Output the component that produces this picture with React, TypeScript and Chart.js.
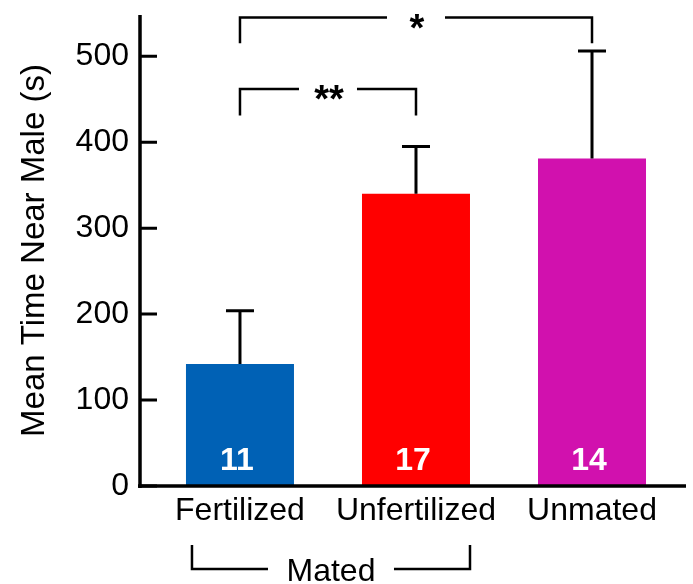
import React, { useEffect, useRef } from 'react';
import { Chart, registerables } from 'chart.js';

Chart.register(...registerables);

const categories = ['Fertilized', 'Unfertilized', 'Unmated'];
const meanTime = [142, 340, 381];
const semTime = [62, 55, 125];
const sampleSizes = ['11', '17', '14'];
const barColors = ['#0061b5', '#ff0000', '#d111ae'];
const yTickValues = [0, 100, 200, 300, 400, 500];
const yMax = 548;
const yTitle = 'Mean Time Near Male (s)';
const sigFrom = [0, 0];
const sigTo = [2, 1];
const sigLevel = [545, 462];
const sigEnd = [515, 431];
const sigLabels = ['*', '**'];
const groupLabel = 'Mated';
const groupFrom = 0;
const groupTo = 1;

const FONT = "'Liberation Sans', Arial, Helvetica, sans-serif";

const annotationPlugin = {
  id: 'annotations',
  afterDatasetsDraw(chart: any) {
    const ctx = chart.ctx as CanvasRenderingContext2D;
    const area = chart.chartArea;
    const y = chart.scales.y;
    const meta = chart.getDatasetMeta(0);
    ctx.save();
    ctx.strokeStyle = '#000';
    ctx.fillStyle = '#000';
    ctx.lineCap = 'butt';

    // error bars
    ctx.lineWidth = 3;
    meta.data.forEach((bar: any, i: number) => {
      const top = y.getPixelForValue(meanTime[i] + semTime[i]);
      const base = y.getPixelForValue(meanTime[i]);
      ctx.beginPath();
      ctx.moveTo(bar.x, base);
      ctx.lineTo(bar.x, top);
      ctx.moveTo(bar.x - 14, top);
      ctx.lineTo(bar.x + 14, top);
      ctx.stroke();
    });

    // sample sizes inside bars
    ctx.fillStyle = '#fff';
    ctx.font = `bold 32px ${FONT}`;
    ctx.textAlign = 'center';
    ctx.textBaseline = 'alphabetic';
    meta.data.forEach((bar: any, i: number) => {
      ctx.fillText(sampleSizes[i], bar.x - 3, area.bottom - 16);
    });

    // axes
    ctx.strokeStyle = '#000';
    ctx.fillStyle = '#000';
    ctx.lineWidth = 3.5;
    ctx.beginPath();
    ctx.moveTo(area.left, area.top);
    ctx.lineTo(area.left, area.bottom + 2);
    ctx.moveTo(area.left - 2, area.bottom);
    ctx.lineTo(area.right, area.bottom);
    ctx.stroke();
    ctx.lineWidth = 3;
    ctx.beginPath();
    yTickValues.forEach((v) => {
      const py = y.getPixelForValue(v);
      ctx.moveTo(area.left, py);
      ctx.lineTo(area.left + 17, py);
    });
    ctx.stroke();

    // significance brackets
    ctx.lineWidth = 2.5;
    ctx.font = `bold 38px ${FONT}`;
    ctx.textAlign = 'center';
    ctx.textBaseline = 'alphabetic';
    sigLabels.forEach((label, k) => {
      const x1 = meta.data[sigFrom[k]].x;
      const x2 = meta.data[sigTo[k]].x;
      const ly = y.getPixelForValue(sigLevel[k]);
      const ey = y.getPixelForValue(sigEnd[k]);
      const mid = (x1 + x2) / 2;
      const gap = 29;
      ctx.beginPath();
      ctx.moveTo(x1, ey);
      ctx.lineTo(x1, ly);
      ctx.lineTo(mid - gap, ly);
      ctx.moveTo(mid + gap, ly);
      ctx.lineTo(x2, ly);
      ctx.lineTo(x2, ey);
      ctx.stroke();
      ctx.fillText(label, mid + 1, ly + 23);
    });

    // group bracket below x labels
    const b1: any = meta.data[groupFrom];
    const b2: any = meta.data[groupTo];
    const gx1 = b1.x - b1.width / 2 + 6;
    const gx2 = b2.x + b2.width / 2;
    const gTop = area.bottom + 59;
    const gLine = area.bottom + 83;
    const gMid = (gx1 + gx2) / 2;
    ctx.beginPath();
    ctx.moveTo(gx1, gTop);
    ctx.lineTo(gx1, gLine);
    ctx.lineTo(gMid - 63, gLine);
    ctx.moveTo(gMid + 63, gLine);
    ctx.lineTo(gx2, gLine);
    ctx.lineTo(gx2, gTop);
    ctx.stroke();
    ctx.font = `32px ${FONT}`;
    ctx.fillText(groupLabel, gMid, area.bottom + 95);

    ctx.restore();
  },
};

export default function App() {
  const ref = useRef<HTMLCanvasElement>(null);
  useEffect(() => {
    const chart = new Chart(ref.current as HTMLCanvasElement, {
      type: 'bar',
      data: {
        datasets: [
          {
            data: meanTime.map((v, i) => ({ x: i, y: v })) as any,
            backgroundColor: barColors,
            borderWidth: 0,
            categoryPercentage: 1,
            barPercentage: 0.6136,
          },
        ],
      },
      options: {
        responsive: false,
        animation: false,
        devicePixelRatio: 1,
        layout: { padding: { top: 15, right: 7, left: 0, bottom: 0 } },
        plugins: { legend: { display: false }, tooltip: { enabled: false } },
        scales: {
          x: {
            type: 'linear',
            offset: false,
            min: -0.568,
            max: 2.534,
            grid: { display: false, drawTicks: false, offset: false },
            border: { display: false },
            afterBuildTicks: (s: any) => {
              s.ticks = categories.map((_, i) => ({ value: i }));
            },
            afterFit: (s: any) => {
              s.height = 98;
              s.paddingLeft = 0;
              s.paddingRight = 0;
            },
            ticks: {
              autoSkip: false,
              maxRotation: 0,
              minRotation: 0,
              padding: 6,
              color: '#000',
              font: { family: FONT, size: 32 },
              callback: (v: any) => categories[v] ?? '',
            },
          },
          y: {
            min: 0,
            max: yMax,
            grid: { display: false, drawTicks: false },
            border: { display: false },
            afterBuildTicks: (s: any) => {
              s.ticks = yTickValues.map((v) => ({ value: v }));
            },
            afterFit: (s: any) => {
              s.width = 140;
              s.paddingTop = 0;
              s.paddingBottom = 0;
            },
            ticks: {
              padding: 11,
              color: '#000',
              font: { family: FONT, size: 32 },
            },
            title: {
              display: true,
              text: yTitle,
              color: '#000',
              font: { family: FONT, size: 33 },
              padding: { top: 15, bottom: 0 },
            },
          },
        },
      } as any,
      plugins: [annotationPlugin],
    });
    return () => chart.destroy();
  }, []);
  return (
    <div style={{ position: 'fixed', left: 0, top: 0, width: 693, height: 584, background: '#fff' }}>
      <canvas ref={ref} width={693} height={584} style={{ display: 'block', width: 693, height: 584 }} />
    </div>
  );
}
